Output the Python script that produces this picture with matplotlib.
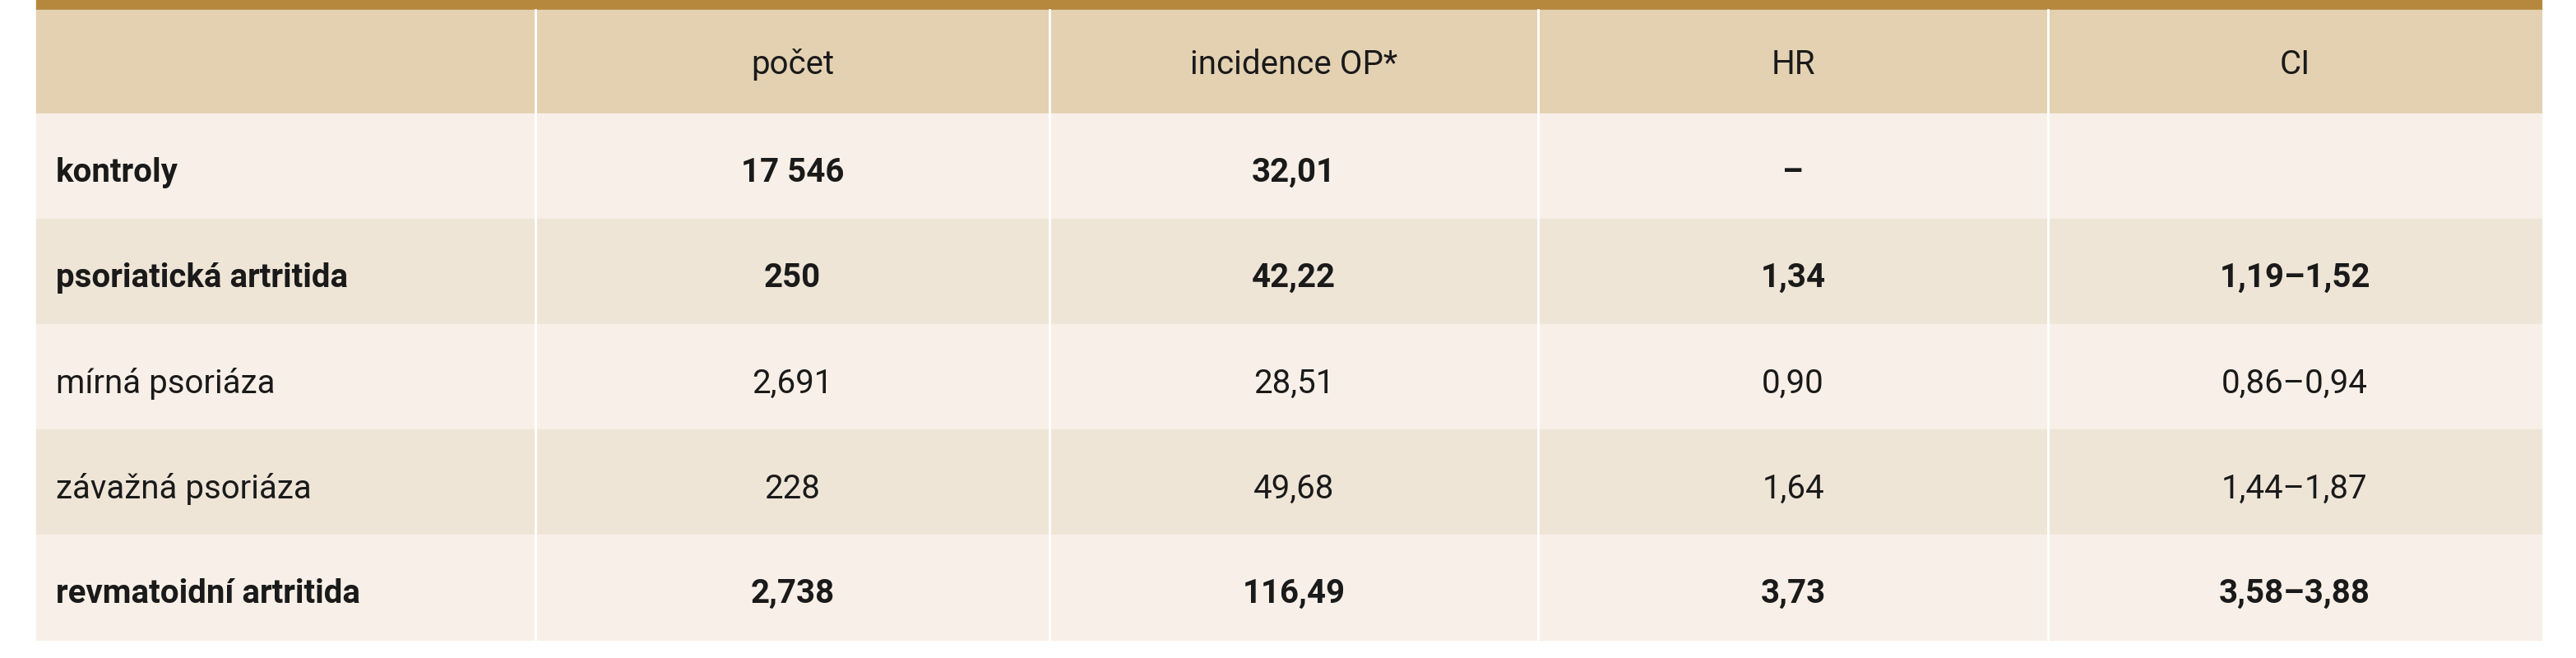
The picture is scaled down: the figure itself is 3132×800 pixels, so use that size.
import matplotlib
matplotlib.use("Agg")
import matplotlib.pyplot as plt
from matplotlib.patches import Rectangle

headers = ["", "počet", "incidence OP*", "HR", "CI"]
groups = ["kontroly", "psoriatická artritida", "mírná psoriáza", "závažná psoriáza", "revmatoidní artritida"]
pocet = ["17 546", "250", "2,691", "228", "2,738"]
incidence = ["32,01", "42,22", "28,51", "49,68", "116,49"]
hr = ["–", "1,34", "0,90", "1,64", "3,73"]
ci = ["", "1,19–1,52", "0,86–0,94", "1,44–1,87", "3,58–3,88"]
bold = [True, True, False, False, True]

W, H = 3132, 800
fig = plt.figure(figsize=(W/100, H/100), dpi=100)
ax = fig.add_axes([0, 0, 1, 1])
ax.set_xlim(0, W); ax.set_ylim(H, 0); ax.axis("off")
fam = ["Liberation Sans Narrow", "Roboto", "DejaVu Sans"]

xs = [44, 651, 1276, 1870, 2490, 3090]
top_bar = 12
hdr_bot = 138
rh = 128
ax.add_patch(Rectangle((44, 0), xs[-1]-44, top_bar, color="#b5883e"))
ax.add_patch(Rectangle((44, top_bar), xs[-1]-44, hdr_bot-top_bar, color="#e3d1b2"))
for i in range(5):
    y0 = hdr_bot + i*rh
    ax.add_patch(Rectangle((44, y0), xs[-1]-44, rh, color="#f8f0e8" if i % 2 == 0 else "#eee5d7"))
for x in xs[1:-1]:
    ax.plot([x, x], [top_bar, hdr_bot + 5*rh], color="white", lw=2)

fs = 29
for j, h in enumerate(headers):
    if h:
        ax.text((xs[j]+xs[j+1])/2, (top_bar+hdr_bot)/2 + 4, h, ha="center", va="center", fontsize=fs, family=fam, color="#1a1a1a")
cols = [pocet, incidence, hr, ci]
for i in range(5):
    yc = hdr_bot + i*rh + rh/2 + 8
    w = "bold" if bold[i] else "normal"
    ax.text(xs[0] + 24, yc, groups[i], ha="left", va="center", fontsize=fs, family=fam, weight=w, color="#1a1a1a")
    for j, c in enumerate(cols):
        ax.text((xs[j+1]+xs[j+2])/2, yc, c[i], ha="center", va="center", fontsize=fs, family=fam, weight=w, color="#1a1a1a")

fig.savefig("out.png", dpi=100, facecolor="white")
